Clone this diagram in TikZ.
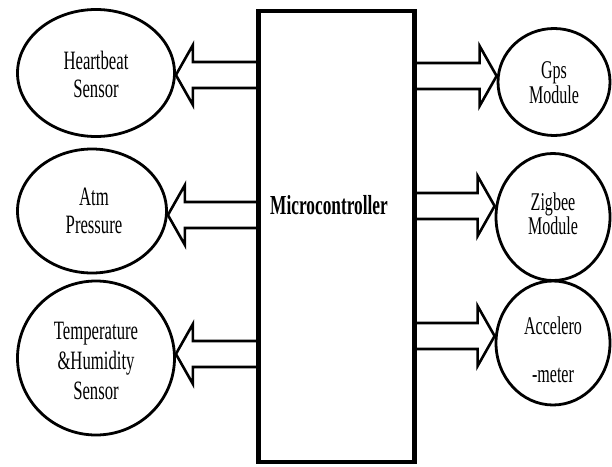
\documentclass[tikz,border=0pt]{standalone}
\usepackage{fontspec}
\setmainfont{Liberation Serif}
\newfontfamily\tallfont[FakeStretch=0.63]{Liberation Serif}
\usetikzlibrary{shapes.geometric,calc}
\tikzset{
  box/.style={draw, line width=4.5pt, minimum width=156pt, minimum height=451pt, inner sep=0pt},
  oval/.style={draw, ellipse, line width=2.8pt, inner sep=0pt},
  lbl/.style={align=center, font=\tallfont\fontsize{26.5}{28}\selectfont, inner sep=0pt},
  arrline/.style={draw, line width=2.6pt, line join=miter},
}
% #1 start point on box edge, #2 tip point on ellipse
\newcommand\blockarr[2]{%
  \draw[arrline] let \p1=(#1), \p2=(#2), \n1={ifthenelse(\x2>\x1,1,-1)} in
    (\x1,\y1+13pt) -- (\x2-\n1*17pt,\y1+13pt) -- (\x2-\n1*17pt,\y1+30pt) --
    (\x2,\y1) -- (\x2-\n1*17pt,\y1-30pt) -- (\x2-\n1*17pt,\y1-13pt) -- (\x1,\y1-13pt);
}
\begin{document}
\begin{tikzpicture}[x=1pt,y=-1pt]
\useasboundingbox[fill=white] (0,0) rectangle (612,466);
% main block
\node[box] (mc) at (336.5,236.5) {};
\node[lbl, font=\tallfont\bfseries\fontsize{27.5}{28}\selectfont] (mclbl) at (329,205) {Microcontroller};
% left ellipses
\node[oval, minimum width=157pt, minimum height=127pt] (hb) at (96,73) {};
\node[lbl] (hbt) at (96,74) {Heartbeat\\Sensor};
\node[oval, minimum width=149pt, minimum height=124pt] (atm) at (92,211) {};
\node[lbl] (atmt) at (94,211) {Atm\\Pressure};
\node[oval, minimum width=157pt, minimum height=154pt] (th) at (96,358) {};
\node[lbl, font=\tallfont\fontsize{26.5}{30}\selectfont] (tht) at (96,361) {Temperature\\\&Humidity\\Sensor};
% right ellipses
\node[oval, minimum width=112pt, minimum height=107pt] (gps) at (554,82) {};
\node[lbl, font=\tallfont\fontsize{25.5}{25}\selectfont] (gpst) at (554,83) {Gps\\Module};
\node[oval, minimum width=114pt, minimum height=127pt] (zig) at (553,217) {};
\node[lbl, font=\tallfont\fontsize{25.5}{24}\selectfont] (zigt) at (553,214) {Zigbee\\Module};
\node[oval, minimum width=114pt, minimum height=124pt] (acc) at (553,343) {};
\node[lbl, font=\tallfont\fontsize{25.5}{48}\selectfont] (acct) at (553,350) {Accelero\\-meter};
% coordinates for arrows
\coordinate (s1) at (mc.west |- 0,75);
\coordinate (t1) at (hb.east |- 0,75);
\coordinate (s2) at (mc.west |- 0,215);
\coordinate (t2) at (atm.east |- 0,215);
\coordinate (s3) at (mc.west |- 0,354);
\coordinate (t3) at (th.east |- 0,354);
\coordinate (s4) at (mc.east |- 0,76);
\coordinate (t4) at (gps.west |- 0,76);
\coordinate (s5) at (mc.east |- 0,206);
\coordinate (t5) at (zig.west |- 0,206);
\coordinate (s6) at (mc.east |- 0,336);
\coordinate (t6) at (acc.west |- 0,336);
\blockarr{s1}{t1}
\blockarr{s2}{t2}
\blockarr{s3}{t3}
\blockarr{s4}{t4}
\blockarr{s5}{t5}
\blockarr{s6}{t6}
\end{tikzpicture}
\end{document}
